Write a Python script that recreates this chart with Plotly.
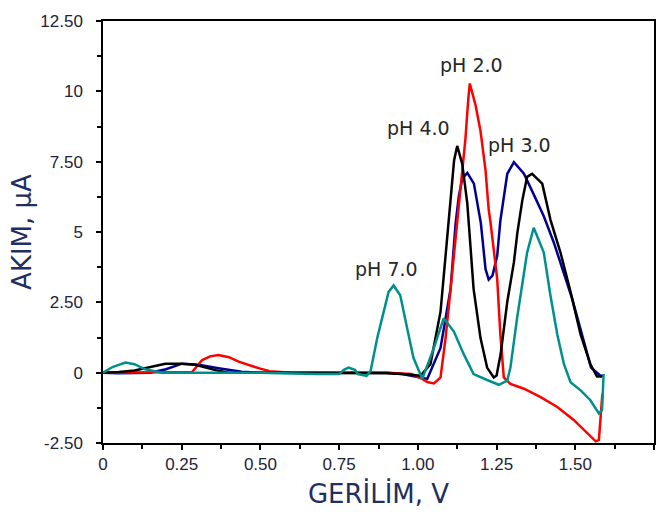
import plotly.graph_objects as go

# ---- data ----
red_v = [0, 0.10, 0.20, 0.283, 0.315, 0.34, 0.367, 0.40, 0.431, 0.465, 0.494, 0.53, 0.60, 0.70, 0.80, 0.90,
         0.98, 1.01, 1.03, 1.051, 1.072, 1.088, 1.104, 1.119, 1.135, 1.151, 1.160, 1.165, 1.183, 1.199, 1.215,
         1.225, 1.231, 1.252, 1.262, 1.273, 1.294, 1.337, 1.39, 1.443, 1.495, 1.538, 1.565, 1.575, 1.580, 1.586]
red_i = [0, 0, 0, 0.02, 0.45, 0.58, 0.63, 0.55, 0.39, 0.26, 0.16, 0.05, 0, 0, 0, 0,
         -0.05, -0.2, -0.33, -0.38, -0.17, 1.23, 2.98, 4.73, 6.5, 8.3, 9.7, 10.28, 9.52, 8.59, 7.19,
         5.79, 5.32, 3.33, 1.36, -0.17, -0.4, -0.57, -0.87, -1.22, -1.68, -2.15, -2.44, -2.39, -1.45, -0.75]

black_v = [0, 0.05, 0.10, 0.155, 0.198, 0.25, 0.293, 0.357, 0.40, 0.50, 0.60, 0.70, 0.80, 0.90, 0.95,
           1.008, 1.04, 1.072, 1.088, 1.098, 1.104, 1.115, 1.125, 1.141, 1.157, 1.162, 1.177, 1.199, 1.220,
           1.241, 1.25, 1.263, 1.284, 1.305, 1.316, 1.332, 1.347, 1.363, 1.395, 1.421, 1.447, 1.453, 1.485,
           1.517, 1.548, 1.569, 1.585]
black_i = [0, 0.02, 0.08, 0.2, 0.32, 0.32, 0.28, 0.09, 0, 0, 0, 0, 0, -0.02, -0.05,
           -0.11, 0.3, 2.17, 4.15, 5.32, 6.26, 7.54, 8.06, 7.42, 6.02, 5.32, 2.98, 1.23, 0.18,
           -0.17, -0.1, 0.66, 2.52, 3.92, 4.97, 6.14, 6.96, 7.07, 6.72, 5.44, 4.50, 4.27, 2.87,
           1.35, 0.30, -0.14, -0.14]

blue_v = [0, 0.05, 0.15, 0.20, 0.251, 0.304, 0.367, 0.44, 0.50, 0.60, 0.70, 0.80, 0.90, 0.95, 1.0,
          1.03, 1.072, 1.104, 1.12, 1.13, 1.141, 1.157, 1.178, 1.194, 1.20, 1.215, 1.225, 1.237, 1.252,
          1.262, 1.284, 1.305, 1.337, 1.369, 1.40, 1.432, 1.49, 1.55, 1.58, 1.588]
blue_i = [0, -0.02, 0, 0.12, 0.32, 0.28, 0.16, 0.03, 0, 0, 0, 0, 0, -0.05, -0.15,
          -0.22, 0.88, 2.98, 5.32, 6.26, 6.9, 7.10, 6.72, 5.79, 5.32, 3.68, 3.31, 3.45, 4.15,
          5.4, 7.07, 7.48, 7.07, 6.31, 5.56, 4.62, 2.63, 0.18, -0.11, -0.11]

teal_v = [0, 0.03, 0.071, 0.10, 0.134, 0.187, 0.30, 0.50, 0.68, 0.75, 0.765, 0.78, 0.80, 0.81, 0.837,
          0.85, 0.871, 0.891, 0.907, 0.923, 0.944, 0.966, 0.986, 1.014, 1.051, 1.082, 1.114, 1.146, 1.177,
          1.22, 1.257, 1.284, 1.294, 1.315, 1.337, 1.347, 1.368, 1.40, 1.421, 1.443, 1.464, 1.485, 1.517,
          1.548, 1.575, 1.585, 1.590]
teal_i = [0, 0.2, 0.36, 0.3, 0.12, 0, 0, 0, -0.05, -0.05, 0.1, 0.18, 0.1, -0.05, -0.11,
          0.07, 1.23, 2.17, 2.87, 3.10, 2.75, 1.58, 0.53, -0.22, 0.88, 1.93, 1.47, 0.65, -0.05,
          -0.26, -0.43, -0.28, 0.18, 1.93, 3.57, 4.27, 5.15, 4.27, 2.75, 1.35, 0.30, -0.34, -0.63,
          -0.98, -1.45, -1.33, -0.05]

x_ticks = [0, 0.25, 0.5, 0.75, 1.0, 1.25, 1.5, 1.75]
x_labels = ["0", "0.25", "0.50", "0.75", "1.00", "1.25", "1.50", "1.75"]
y_ticks = [-2.5, 0, 2.5, 5, 7.5, 10, 12.5]
y_labels = ["-2.50", "0", "2.50", "5", "7.50", "10", "12.50"]

labels = ["pH 2.0", "pH 4.0", "pH 3.0", "pH 7.0"]
label_v = [1.171, 1.002, 1.323, 0.899]
label_i = [10.95, 8.70, 8.10, 3.70]

# ---- figure ----
fig = go.Figure()
series = [
    ("pH 3.0", blue_v, blue_i, "#000090"),
    ("pH 2.0", red_v, red_i, "#FF0000"),
    ("pH 4.0", black_v, black_i, "#000000"),
    ("pH 7.0", teal_v, teal_i, "#00908C"),
]
for name, xv, yv, col in series:
    fig.add_trace(go.Scatter(x=xv, y=yv, mode="lines", name=name,
                             line=dict(color=col, width=2.5)))

for t, xv, yv in zip(labels, label_v, label_i):
    fig.add_annotation(x=xv, y=yv, text=t, showarrow=False,
                       font=dict(family="DejaVu Sans", size=19, color="#262626"),
                       xanchor="center", yanchor="middle")

tick_font = dict(family="Liberation Sans", size=17, color="#222238")
title_font = dict(family="DejaVu Sans", size=26, color="#1f2f5f")

fig.update_layout(
    width=669, height=519,
    margin=dict(l=103, r=15, t=15, b=76),
    paper_bgcolor="white", plot_bgcolor="white",
    showlegend=False,
    xaxis=dict(range=[0, 1.75], tickvals=x_ticks, ticktext=x_labels,
               showline=True, linecolor="black", linewidth=1.5, mirror=True,
               ticks="outside", ticklen=5, tickcolor="black", tickwidth=1.5,
               minor=dict(ticks="outside", dtick=0.125, ticklen=4, tickcolor="black", tickwidth=1.5),
               showgrid=False, zeroline=False, tickfont=tick_font,
               title=dict(text="GERİLİM, V", font=title_font, standoff=12)),
    yaxis=dict(range=[-2.5, 12.5], tickvals=y_ticks, ticktext=y_labels,
               showline=True, linecolor="black", linewidth=1.5, mirror=True,
               ticks="outside", ticklen=5, tickcolor="black", tickwidth=1.5,
               minor=dict(ticks="outside", dtick=1.25, ticklen=4, tickcolor="black", tickwidth=1.5),
               showgrid=False, zeroline=False, tickfont=tick_font, ticklabelstandoff=10,
               title=dict(text="AKIM, µA", font=title_font, standoff=1)),
)

fig.write_html("out.html")
